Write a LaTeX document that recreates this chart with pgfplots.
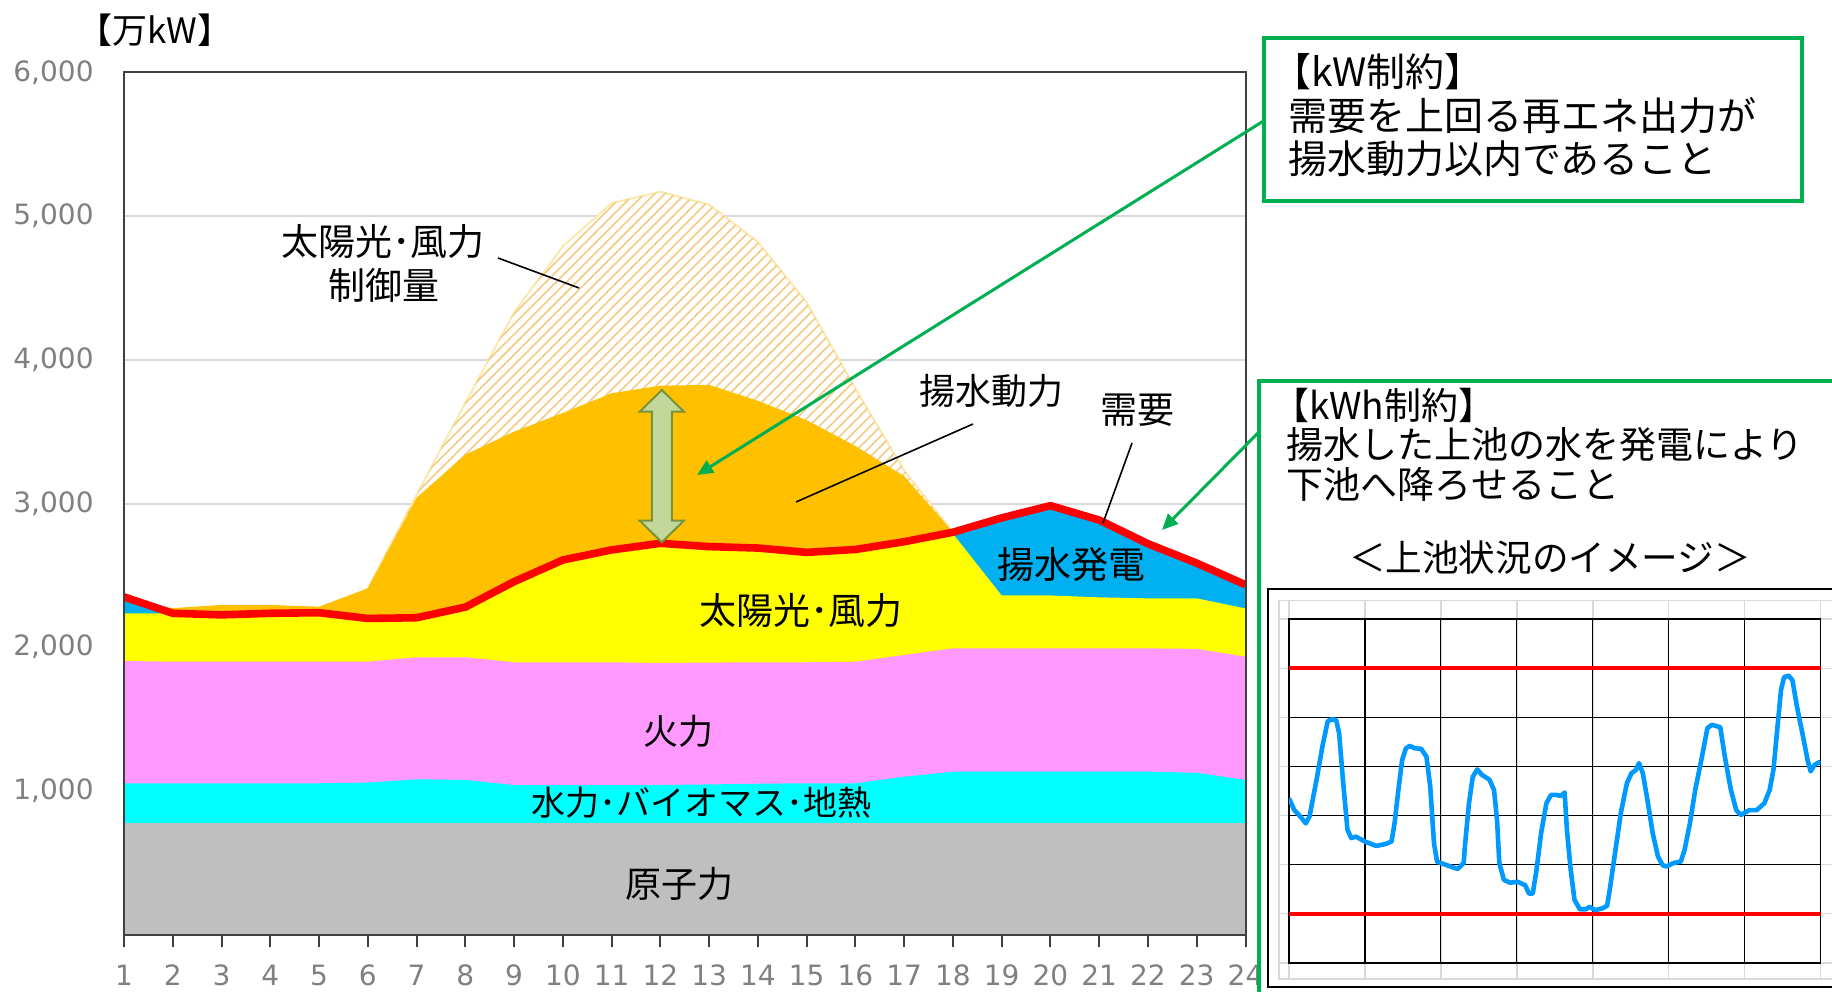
\documentclass[border=0pt]{standalone}
\usepackage{fontspec}
\usepackage{pgfplots}
\usepackage{pgfplotstable}
\pgfplotsset{compat=1.18}
\usetikzlibrary{patterns.meta, arrows.meta}

\newfontfamily\jp{Noto Sans CJK JP}
\newfontfamily\tickfont{DejaVu Sans}

\definecolor{nuclear}{HTML}{BFBFBF}
\definecolor{hydro}{HTML}{00FFFF}
\definecolor{thermal}{HTML}{FF99FF}
\definecolor{renew}{HTML}{FFFF00}
\definecolor{pumpin}{HTML}{FFC000}
\definecolor{pumpgen}{HTML}{00B0F0}
\definecolor{demandred}{HTML}{FF0000}
\definecolor{callgreen}{HTML}{00B050}
\definecolor{hatch}{HTML}{F5CB82}
\definecolor{hatchedge}{HTML}{FBE9B0}
\definecolor{arrowfill}{HTML}{C4D79B}
\definecolor{arrowedge}{HTML}{77933C}
\definecolor{levelblue}{HTML}{0099FF}
\definecolor{gridgray}{HTML}{D9D9D9}
\definecolor{ticktext}{HTML}{808080}
\definecolor{frame}{HTML}{404040}

% hourly stacked totals [10^4 kW]
\pgfplotstableread{
h  demand renew thermal hydro nuclear pumpgen
1  2350   2236  1904    1053  775     2320
2  2236   2236  1899    1053  775     2236
3  2225   2225  1899    1053  775     2225
4  2236   2236  1899    1053  775     2236
5  2240   2240  1899    1053  775     2240
6  2200   2200  1899    1058  775     2200
7  2205   2205  1930    1081  775     2205
8  2279   2279  1930    1076  775     2279
9  2456   2456  1895    1041  775     2456
10 2607   2607  1895    1041  775     2607
11 2677   2677  1895    1041  775     2677
12 2723   2723  1890    1041  775     2723
13 2700   2700  1893    1045  775     2700
14 2690   2690  1895    1050  775     2690
15 2660   2660  1895    1053  775     2660
16 2680   2680  1899    1053  775     2680
17 2734   2734  1946    1099  775     2734
18 2800   2790  1992    1134  775     2800
19 2900   2360  1992    1134  775     2900
20 2985   2360  1992    1134  775     2985
21 2885   2347  1992    1134  775     2885
22 2720   2340  1992    1134  775     2720
23 2585   2340  1988    1126  775     2585
24 2435   2270  1934    1076  775     2435
}\mix

% upper edge of the pumping load
\pgfplotstableread{
h  top
1  2330
2  2272
3  2294
4  2294
5  2282
6  2410
7  3040
8  3340
9  3500
10 3630
11 3767
12 3820
13 3825
14 3715
15 3580
16 3400
17 3190
18 2800
}\pumping

% upper edge of renewable output before curtailment
\pgfplotstableread{
h  top
6  2410
7  3060
8  3700
9  4330
10 4790
11 5090
12 5170
13 5080
14 4820
15 4400
16 3800
17 3230
18 2800
}\curtail

\begin{document}
\begin{tikzpicture}
\path[use as bounding box] (0pt,0pt) rectangle (916pt,495.5pt);
\fill[white] (0pt,0pt) rectangle (916pt,495.5pt);

\begin{axis}[
  at={(62pt,28.2pt)}, anchor=south west,
  width=560.75pt, height=431.1pt, scale only axis,
  xmin=1, xmax=24, ymin=0, ymax=6000,
  xtick={1,...,24}, ytick={1000,2000,...,6000},
  xtick pos=bottom, ytick pos=left,
  tick align=outside, major tick length=6pt,
  x tick style={draw=frame, line width=1pt},
  y tick style={draw=none},
  axis line style={draw=frame, line width=1pt},
  axis on top,
  /pgf/number format/assume math mode=true,
  yticklabel style={/pgf/number format/1000 sep={,}, anchor=east, inner sep=0pt, xshift=-9pt},
  xticklabel style={anchor=center, inner sep=0pt, yshift=-14.5pt},
  tick label style={font=\tickfont\fontsize{14pt}{16pt}\selectfont, text=ticktext},
]
  % horizontal grid
  \foreach \g in {1000,2000,3000,4000,5000}{
    \edef\tmp{\noexpand\addplot[gridgray, line width=1pt, forget plot] coordinates {(1,\g) (24,\g)};}
    \tmp
  }
  % curtailed renewable output (hatched)
  \addplot[fill=white, draw=hatchedge, line width=1pt] table[x=h, y=top] {\curtail} \closedcycle;
  \addplot[draw=none, pattern={Lines[angle=45, distance=3.6pt, line width=0.8pt]}, pattern color=hatch] table[x=h, y=top] {\curtail} \closedcycle;
  % pumping load
  \addplot[draw=none, fill=pumpin] table[x=h, y=top] {\pumping} \closedcycle;
  % pumped-storage generation
  \addplot[draw=none, fill=pumpgen] table[x=h, y=pumpgen] {\mix} \closedcycle;
  % solar and wind
  \addplot[draw=none, fill=renew] table[x=h, y=renew] {\mix} \closedcycle;
  % thermal
  \addplot[draw=none, fill=thermal] table[x=h, y=thermal] {\mix} \closedcycle;
  % hydro, biomass, geothermal
  \addplot[draw=none, fill=hydro] table[x=h, y=hydro] {\mix} \closedcycle;
  % nuclear
  \addplot[draw=none, fill=nuclear] table[x=h, y=nuclear] {\mix} \closedcycle;
  % demand
  \addplot[demandred, line width=3.8pt, line join=round] table[x=h, y=demand] {\mix};
  % margin between pumping limit and demand
  \draw[fill=arrowfill, draw=arrowedge, line width=1pt, line join=miter]
    (axis cs:12.03,3790) -- (axis cs:12.48,3640) -- (axis cs:12.235,3640) --
    (axis cs:12.235,2880) -- (axis cs:12.48,2880) -- (axis cs:12.03,2730) --
    (axis cs:11.58,2880) -- (axis cs:11.825,2880) -- (axis cs:11.825,3640) --
    (axis cs:11.58,3640) -- cycle;
\end{axis}

\begin{scope}[x=0.5pt, y=-0.5pt, yshift=495.5pt]
  % unit
  \node[anchor=west, font=\jp\fontsize{17.5pt}{20pt}\selectfont] at (70,30) {【万kW】};
  % labels inside the chart
  \node[font=\jp\fontsize{18.5pt}{20pt}\selectfont] at (383,242) {太陽光･風力};
  \node[font=\jp\fontsize{18.5pt}{20pt}\selectfont] at (384,285) {制御量};
  \draw[black, line width=0.8pt] (498,258) -- (579,288);
  \node[font=\jp\fontsize{18pt}{20pt}\selectfont] at (991,391) {揚水動力};
  \draw[black, line width=0.8pt] (973,424) -- (796,502);
  \node[font=\jp\fontsize{18.5pt}{20pt}\selectfont] at (1137,410) {需要};
  \draw[black, line width=0.8pt] (1132,443) -- (1103,523);
  \node[font=\jp\fontsize{18.5pt}{20pt}\selectfont] at (1071,565) {揚水発電};
  \node[font=\jp\fontsize{18.5pt}{20pt}\selectfont] at (801,611) {太陽光･風力};
  \node[font=\jp\fontsize{17.5pt}{20pt}\selectfont] at (678,731) {火力};
  \node[font=\jp\fontsize{17pt}{20pt}\selectfont] at (701,803) {水力･バイオマス･地熱};
  \node[font=\jp\fontsize{18pt}{20pt}\selectfont] at (679,884) {原子力};

  % kW constraint box
  \draw[callgreen, line width=2pt, fill=white] (1263.5,38.5) rectangle (1802,201);
  \node[anchor=west, font=\jp\fontsize{19.5pt}{22pt}\selectfont] at (1265,72) {【kW制約】};
  \node[anchor=west, font=\jp\fontsize{19.5pt}{22pt}\selectfont] at (1281,116) {需要を上回る再エネ出力が};
  \node[anchor=west, font=\jp\fontsize{19.5pt}{22pt}\selectfont] at (1281,159) {揚水動力以内であること};

  % kWh constraint box
  \draw[callgreen, line width=2pt, fill=white] (1259,380.7) rectangle (1860,1010);
  \node[anchor=west, font=\jp\fontsize{18.5pt}{22pt}\selectfont] at (1265,405) {【kWh制約】};
  \node[anchor=west, font=\jp\fontsize{18.5pt}{22pt}\selectfont] at (1279,445) {揚水した上池の水を発電により};
  \node[anchor=west, font=\jp\fontsize{18.5pt}{22pt}\selectfont] at (1279,484) {下池へ降ろせること};
  \node[font=\jp\fontsize{18.3pt}{22pt}\selectfont] at (1550,558) {＜上池状況のイメージ＞};

  % frame of the reservoir sketch
  \draw[black, line width=1pt] (1267.8,589.3) rectangle (1860,987.3);
  \draw[gridgray, line width=0.8pt] (1279,600.7) rectangle (1860,979.3);
  \foreach \k in {0,...,7}{
    \draw[gridgray, line width=0.8pt] ({1289+75.93*\k},600.7) -- ({1289+75.93*\k},979.3);
    \draw[gridgray, line width=0.8pt] (1279,{619.3+49.06*\k}) -- (1860,{619.3+49.06*\k});
  }

  % callout arrows
  \draw[callgreen, line width=1.5pt, -{Triangle[length=8pt, width=7pt]}] (1263.5,121) -- (697,475);
  \draw[callgreen, line width=1.5pt, -{Triangle[length=8pt, width=7pt]}] (1259,432) -- (1162,530);
\end{scope}

% upper reservoir level sketch
\begin{axis}[
  at={(644.5pt,14.15pt)}, anchor=south west,
  width=265.75pt, height=171.7pt, scale only axis,
  xmin=0, xmax=7, ymin=0, ymax=7,
  xtick={0,...,7}, ytick={0,...,7},
  xticklabels={}, yticklabels={},
  tick style={draw=none},
  grid=major, major grid style={black, line width=0.6pt},
  axis line style={black, line width=0.8pt},
]
  \addplot[red, line width=2pt] coordinates {(0,1) (7,1)};
  \addplot[red, line width=2pt] coordinates {(0,6) (7,6)};
  \addplot[levelblue, line width=2.3pt, line join=round] coordinates {
    (0,3.35)(0.07,3.11)(0.15,2.98)(0.22,2.84)(0.27,2.98)(0.37,3.79)(0.44,4.41)(0.51,4.92)
    (0.56,4.96)(0.62,4.95)(0.66,4.68)(0.71,3.73)(0.77,2.71)(0.82,2.54)(0.88,2.57)(1.00,2.47)
    (1.15,2.38)(1.27,2.42)(1.35,2.47)(1.39,2.84)(1.44,3.52)(1.49,4.13)(1.54,4.37)(1.59,4.42)
    (1.66,4.37)(1.74,4.36)(1.81,4.20)(1.86,3.59)(1.91,2.43)(1.95,2.06)(2.00,2.03)(2.13,1.96)
    (2.22,1.91)(2.30,2.03)(2.32,2.43)(2.37,3.25)(2.42,3.79)(2.48,3.94)(2.54,3.83)(2.64,3.73)
    (2.70,3.52)(2.74,2.91)(2.77,2.03)(2.83,1.69)(2.91,1.63)(3.01,1.65)(3.11,1.58)(3.16,1.41)
    (3.21,1.41)(3.26,1.89)(3.32,2.64)(3.39,3.25)(3.45,3.42)(3.52,3.42)(3.58,3.40)(3.63,3.47)
    (3.66,2.71)(3.71,1.89)(3.76,1.28)(3.83,1.09)(3.91,1.09)(3.96,1.14)(4.03,1.07)(4.13,1.11)
    (4.19,1.16)(4.23,1.55)(4.30,2.30)(4.37,3.05)(4.45,3.66)(4.51,3.86)(4.57,3.93)(4.61,4.07)
    (4.66,3.86)(4.72,3.32)(4.79,2.64)(4.86,2.16)(4.92,1.99)(4.97,1.96)(5.06,2.03)(5.16,2.06)
    (5.21,2.30)(5.28,2.84)(5.35,3.52)(5.43,4.13)(5.51,4.78)(5.57,4.85)(5.68,4.80)(5.74,4.20)
    (5.82,3.52)(5.89,3.11)(5.95,3.01)(6.06,3.11)(6.16,3.11)(6.26,3.25)(6.33,3.52)(6.38,3.93)
    (6.43,4.75)(6.48,5.56)(6.52,5.82)(6.58,5.85)(6.63,5.76)(6.69,5.22)(6.77,4.61)(6.83,4.13)
    (6.87,3.90)(6.92,4.03)(7.00,4.10)
  };
\end{axis}
\end{tikzpicture}
\end{document}
